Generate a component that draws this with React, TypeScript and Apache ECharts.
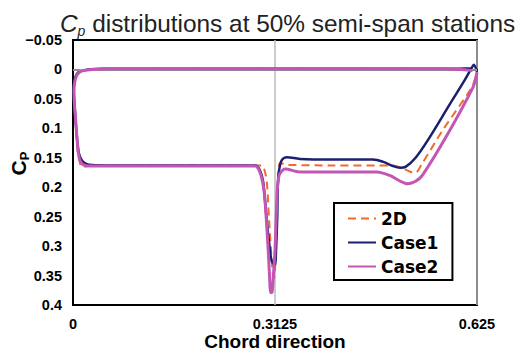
import React, { useEffect, useRef } from "react";
import * as echarts from "echarts";

// ---- Data (chord position x, pressure coefficient Cp) ----
const seriesNames = ["2D", "Case1", "Case2"];

const xTicks = [0, 0.3125, 0.625];

const d2X = [0.618, 0.58, 0.45, 0.3125, 0.15, 0.05, 0.03, 0.014, 0.009, 0.005, 0.003, 0.0015,
  0.002, 0.004, 0.006, 0.008, 0.011, 0.013, 0.018, 0.03, 0.15, 0.25, 0.292, 0.297, 0.3, 0.303,
  0.306, 0.309, 0.311, 0.313, 0.314, 0.317, 0.32, 0.325, 0.331, 0.4, 0.495, 0.51, 0.529, 0.54,
  0.572, 0.617, 0.625];
const d2Y = [0.0, -0.001, -0.001, -0.001, -0.001, -0.001, -0.001, 0.001, 0.004, 0.01, 0.018, 0.035,
  0.06, 0.09, 0.12, 0.145, 0.16, 0.166, 0.165, 0.163, 0.163, 0.163, 0.163, 0.174, 0.193, 0.25,
  0.301, 0.346, 0.354, 0.33, 0.273, 0.188, 0.159, 0.16, 0.162, 0.163, 0.163, 0.168, 0.176, 0.16,
  0.103, 0.03, 0.004];

const case1X = [0.618, 0.58, 0.45, 0.3125, 0.15, 0.05, 0.026, 0.014, 0.008, 0.004, 0.002, 0.001,
  0.002, 0.003, 0.005, 0.007, 0.009, 0.013, 0.018, 0.025, 0.05, 0.15, 0.25, 0.282, 0.289, 0.294,
  0.297, 0.3, 0.303, 0.306, 0.308, 0.3125, 0.314, 0.316, 0.317, 0.319, 0.323, 0.331, 0.351, 0.4,
  0.464, 0.48, 0.495, 0.506, 0.515, 0.53, 0.549, 0.583, 0.605, 0.617, 0.62, 0.625];
const case1Y = [-0.002, -0.001, -0.001, -0.001, -0.001, -0.001, 0.0, 0.002, 0.005, 0.012, 0.02, 0.035,
  0.055, 0.07, 0.1, 0.125, 0.142, 0.153, 0.159, 0.162, 0.163, 0.163, 0.163, 0.163, 0.171, 0.19,
  0.222, 0.26, 0.29, 0.318, 0.327, 0.332, 0.31, 0.25, 0.193, 0.17, 0.154, 0.149, 0.152, 0.153,
  0.153, 0.157, 0.164, 0.167, 0.165, 0.15, 0.12, 0.059, 0.02, -0.003, -0.008, 0.004];

const case2X = [0.618, 0.58, 0.45, 0.3125, 0.15, 0.05, 0.03, 0.016, 0.01, 0.006, 0.003, 0.0015,
  0.002, 0.004, 0.006, 0.008, 0.011, 0.016, 0.025, 0.15, 0.282, 0.289, 0.294, 0.297, 0.302, 0.304,
  0.306, 0.308, 0.309, 0.3125, 0.316, 0.318, 0.32, 0.328, 0.351, 0.47, 0.49, 0.505, 0.518, 0.53,
  0.541, 0.579, 0.619, 0.623, 0.625];
const case2Y = [0.002, -0.001, -0.001, -0.001, -0.001, -0.001, 0.0, 0.002, 0.005, 0.01, 0.02, 0.035,
  0.055, 0.085, 0.115, 0.14, 0.155, 0.162, 0.164, 0.164, 0.164, 0.174, 0.195, 0.222, 0.307, 0.35,
  0.379, 0.378, 0.366, 0.307, 0.205, 0.185, 0.177, 0.169, 0.174, 0.174, 0.18, 0.189, 0.194, 0.19,
  0.179, 0.111, 0.03, 0.015, 0.005];

const zip = (xs: number[], ys: number[]) => xs.map((x, i) => [x, ys[i]]);

const COLORS = ["#F26B2A", "#1B1F6E", "#C355B4"];

export default function App() {
  const ref = useRef<HTMLDivElement>(null);

  useEffect(() => {
    if (!ref.current) return;
    const chart = echarts.init(ref.current, undefined, { renderer: "svg" });
    const font = "Liberation Sans, Arial, sans-serif";
    chart.setOption({
      animation: false,
      backgroundColor: "#fff",
      title: {
        left: 55,
        top: 3,
        text: "{i|C}{s|p}{n| distributions at 50% semi-span stations}",
        textStyle: {
          fontWeight: "normal",
          rich: {
            i: { fontFamily: font, fontSize: 24.4, fontWeight: "normal", fontStyle: "italic", color: "#222", lineHeight: 30, verticalAlign: "middle" },
            s: { fontFamily: font, fontSize: 14, fontWeight: "normal", fontStyle: "italic", color: "#222", lineHeight: 30, verticalAlign: "bottom" },
            n: { fontFamily: font, fontSize: 24.4, fontWeight: "normal", color: "#222", lineHeight: 30, verticalAlign: "middle" },
          },
        },
      },
      legend: {
        orient: "vertical",
        left: 334,
        top: 203,
        backgroundColor: "#fff",
        borderColor: "#000",
        borderWidth: 2,
        borderRadius: 0,
        padding: [7, 14, 5, 13],
        itemWidth: 28,
        itemHeight: 14,
        itemGap: 7,
        itemStyle: { opacity: 0 },
        data: seriesNames,
        textStyle: { fontFamily: "DejaVu Sans, sans-serif", fontWeight: "bold", fontSize: 17, color: "#000" },
      },
      grid: {
        left: 73,
        right: 40,
        top: 40,
        bottom: 47,
        show: true,
        borderColor: "#000",
        borderWidth: 2,
        containLabel: false,
        outerBoundsContain: "axisLabel",
      },
      xAxis: {
        type: "value",
        min: xTicks[0],
        max: xTicks[2],
        interval: xTicks[1],
        name: "Chord direction",
        nameLocation: "middle",
        nameGap: 26.5,
        nameMoveOverlap: false,
        nameTextStyle: { fontFamily: font, fontWeight: "bold", fontSize: 19, color: "#000" },
        axisLine: { lineStyle: { color: "#000", width: 2 } },
        axisTick: { show: false },
        axisLabel: {
          fontFamily: font,
          fontWeight: "bold",
          fontSize: 14.5,
          color: "#000",
          margin: 11,
          formatter: (v: number) => String(v),
        },
        splitLine: { show: true, lineStyle: { color: "#bbb", width: 1.5 } },
      },
      yAxis: {
        type: "value",
        inverse: true,
        min: -0.05,
        max: 0.4,
        interval: 0.05,
        name: "{c|C}{p|P}",
        nameLocation: "middle",
        nameRotate: 90,
        nameGap: 42,
        nameMoveOverlap: false,
        nameTextStyle: {
          padding: [0, 0, 0, 18],
          rich: {
            c: { fontFamily: font, fontWeight: "bold", fontSize: 21, color: "#000", lineHeight: 26, verticalAlign: "middle" },
            p: { fontFamily: font, fontWeight: "bold", fontSize: 13, color: "#000", lineHeight: 26, verticalAlign: "bottom" },
          },
        },
        axisLine: { lineStyle: { color: "#000", width: 2 } },
        axisTick: { show: false },
        axisLabel: {
          fontFamily: font,
          fontWeight: "bold",
          fontSize: 14.5,
          color: "#000",
          margin: 11,
          formatter: (v: number) => {
            const r = Math.round(v * 100) / 100;
            return r < 0 ? "\u2212" + String(Math.abs(r)) : String(r);
          },
        },
        splitLine: { show: false },
      },
      series: [
        {
          name: seriesNames[0],
          type: "line",
          data: zip(d2X, d2Y),
          showSymbol: false,
          symbol: "none",
          smooth: 0.3,
          lineStyle: { color: COLORS[0], width: 2, type: [8, 5] },
          itemStyle: { color: COLORS[0] },
          markLine: {
            silent: true,
            symbol: "none",
            label: { show: false },
            lineStyle: { color: "#bbb", width: 1.5, type: "solid" },
            data: [{ yAxis: 0 }],
          },
          z: 3,
        },
        {
          name: seriesNames[1],
          type: "line",
          data: zip(case1X, case1Y),
          showSymbol: false,
          symbol: "none",
          smooth: 0.3,
          lineStyle: { color: COLORS[1], width: 2.5 },
          itemStyle: { color: COLORS[1] },
          z: 4,
        },
        {
          name: seriesNames[2],
          type: "line",
          data: zip(case2X, case2Y),
          showSymbol: false,
          symbol: "none",
          smooth: 0.3,
          lineStyle: { color: COLORS[2], width: 3 },
          itemStyle: { color: COLORS[2] },
          z: 5,
        },
      ],
    });
    return () => chart.dispose();
  }, []);

  return <div ref={ref} style={{ width: 517, height: 352, position: "absolute", left: 0, top: 0 }} />;
}
